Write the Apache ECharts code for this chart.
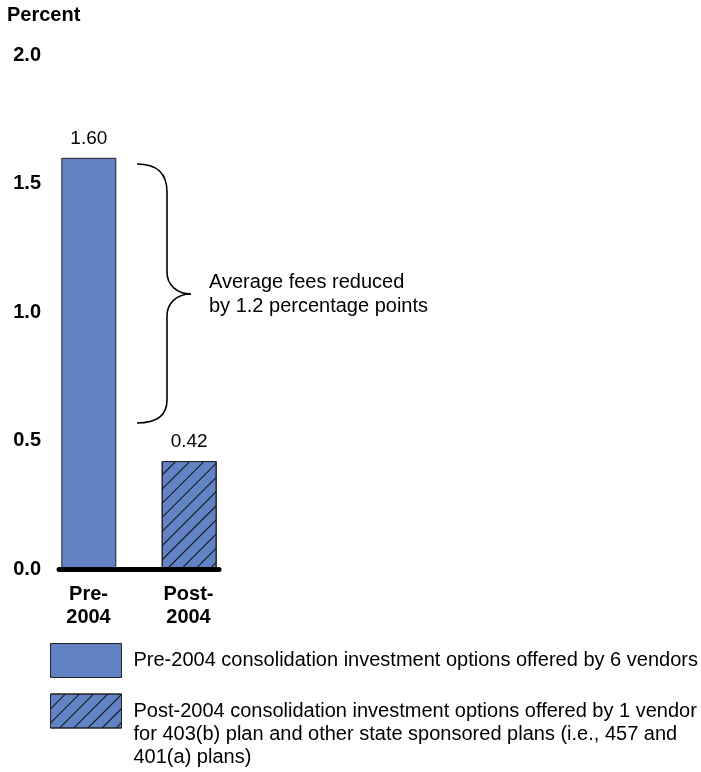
<!DOCTYPE html>
<html><head><meta charset="utf-8">
<script src="https://cdn.jsdelivr.net/npm/echarts@6/dist/echarts.min.js"></script>
<style>html,body{margin:0;padding:0;background:#fff}#c{width:701px;height:772px}</style>
</head><body><div id="c"></div>
<script>
var categories = ['Pre-\n2004', 'Post-\n2004'];
var preValues = [1.60, null];
var postValues = [null, 0.42];
var yTicks = [0, 0.5, 1.0, 1.5, 2.0];
var preName = 'Pre-2004 consolidation investment options offered by 6 vendors';
var postName = 'Post-2004 consolidation investment options offered by 1 vendor\nfor 403(b) plan and other state sponsored plans (i.e., 457 and\n401(a) plans)';
var annotation = 'Average fees reduced\nby 1.2 percentage points';

var FONT = 'Liberation Sans, Arial, Helvetica, sans-serif';
var BLUE = '#6283C3';
var decal = {symbol:'rect', symbolSize:1, dashArrayX:[1,0], dashArrayY:[1,9], rotation:-Math.PI/4, color:'rgba(0,0,0,0.9)'};

var braceStyle = {fill:null, stroke:'#000', lineWidth:1.6};
function curve(x1,y1,c1x,c1y,c2x,c2y,x2,y2){
  return {type:'bezierCurve', shape:{x1:x1,y1:y1,cpx1:c1x,cpy1:c1y,cpx2:c2x,cpy2:c2y,x2:x2,y2:y2}, style:braceStyle};
}
function seg(x1,y1,x2,y2){
  return {type:'line', shape:{x1:x1,y1:y1,x2:x2,y2:y2}, style:braceStyle};
}

var chart = echarts.init(document.getElementById('c'), null, {renderer:'canvas'});
chart.setOption({
  animation:false,
  backgroundColor:'#fff',
  textStyle:{fontFamily:FONT},
  title:{text:'Percent', left:7, top:5, padding:0, textStyle:{fontFamily:FONT,fontSize:20,fontWeight:'bold',color:'#000'}},
  grid:{left:59, width:160, top:55, bottom:203},
  xAxis:{
    type:'category', z:10,
    data:[
      {value:categories[0], textStyle:{padding:[0,21,0,0]}},
      {value:categories[1], textStyle:{padding:[0,0,0,19]}}
    ],
    axisTick:{show:false},
    axisLine:{lineStyle:{color:'#000', width:5}},
    axisLabel:{fontFamily:FONT, fontSize:20, fontWeight:'bold', color:'#000', lineHeight:23, margin:14, interval:0}
  },
  yAxis:{
    type:'value', min:yTicks[0], max:yTicks[yTicks.length-1], interval:0.5,
    axisLine:{show:false}, axisTick:{show:false}, splitLine:{show:false},
    axisLabel:{fontFamily:FONT, fontSize:20, fontWeight:'bold', color:'#000', margin:18,
      formatter:function(v){return v.toFixed(1);}}
  },
  legend:[
    {data:[preName], left:50, top:643, padding:0, orient:'vertical', icon:'rect',
     itemWidth:71, itemHeight:34, selectedMode:false,
     itemStyle:{borderColor:'#222', borderWidth:1},
     textStyle:{fontFamily:FONT, fontSize:20, color:'#000', lineHeight:23, padding:[0,0,0,7]}},
    {data:[postName], left:50, top:653.5, padding:0, orient:'vertical', icon:'rect',
     itemWidth:71, itemHeight:34, selectedMode:false,
     formatter:function(n){return '\n\n'+n;},
     itemStyle:{borderColor:'#222', borderWidth:1},
     textStyle:{fontFamily:FONT, fontSize:20, color:'#000', lineHeight:23, padding:[0,0,0,7]}}
  ],
  series:[
    {name:preName, type:'bar', data:preValues, barWidth:55, barGap:'-63%',
     itemStyle:{color:BLUE, borderColor:'#222', borderWidth:1},
     label:{show:true, position:'top', distance:10, fontFamily:FONT, fontSize:19, color:'#000',
       formatter:function(p){return p.value.toFixed(2);}}},
    {name:postName, type:'bar', data:postValues, barWidth:55,
     itemStyle:{color:BLUE, borderColor:'#222', borderWidth:1, decal:decal},
     label:{show:true, position:'top', distance:10, fontFamily:FONT, fontSize:19, color:'#000',
       formatter:function(p){return p.value.toFixed(2);}}}
  ],
  graphic:[
    curve(137,164, 156,164, 167,172, 167,192),
    seg(167,192, 167,272),
    curve(167,272, 167,285, 177,294, 191,294),
    curve(191,294, 177,294, 167,303, 167,316),
    seg(167,316, 167,400),
    curve(167,400, 167,416, 156,423, 137,423),
    {type:'text', left:209, top:270, style:{text:annotation, font:'20px '+FONT, fill:'#000', lineHeight:24}}
  ]
});
</script></body></html>
